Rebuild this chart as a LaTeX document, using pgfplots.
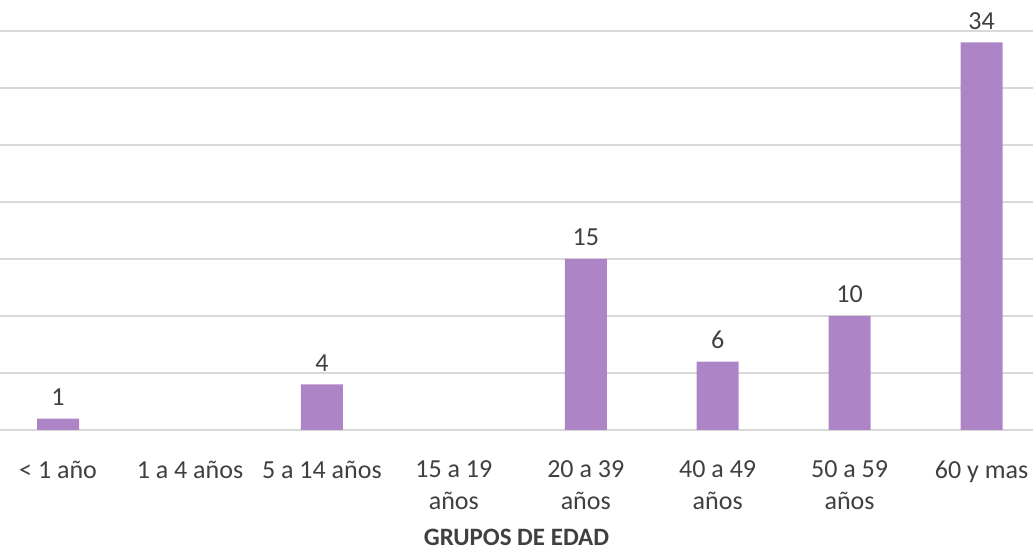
\documentclass[border=0pt]{standalone}
\usepackage{pgfplots}
\pgfplotsset{compat=1.18}
\usepackage{fontspec}
\setmainfont{Carlito}
\definecolor{barpurple}{HTML}{AD85C6}
\definecolor{gridgray}{HTML}{D9D9D9}
\definecolor{txtgray}{HTML}{404040}

\begin{document}
\begin{tikzpicture}
\useasboundingbox (0,-59.5pt) rectangle (516.5pt,215pt);
\begin{axis}[
    at={(0,0)}, anchor=south west,
    width=516.5pt, height=199.5pt, scale only axis,
    ybar, bar width=21pt,
    xmin=-0.44, xmax=7.39,
    ymin=0, ymax=35,
    ytick={0,5,...,35}, yticklabels={},
    ymajorgrids, major grid style={gridgray, line width=0.8pt},
    axis x line*=bottom, axis y line*=left,
    y axis line style={draw=none},
    x axis line style={gridgray, line width=0.8pt, -},
    xtick={0,...,7}, major tick length=0pt,
    xticklabels={{< 1 año},{1 a 4 años},{5 a 14 años},{15 a 19\\años},{20 a 39\\años},{40 a 49\\años},{50 a 59\\años},{60 y mas}},
    xticklabel style={align=center, font=\fontsize{13}{16}\selectfont, text=txtgray, yshift=-12pt},
    xlabel={\textbf{GRUPOS DE EDAD}},
    xlabel style={font=\fontsize{12.5}{14}\selectfont, text=txtgray, inner sep=0pt, yshift=-5.8pt},
    nodes near coords,
    every node near coord/.append style={font=\fontsize{13}{15}\selectfont, text=txtgray, yshift=3pt},
    /pgf/number format/assume math mode=true,
    clip=false,
]
\addplot[fill=barpurple, draw=none] coordinates {(0,1) (2,4) (4,15) (5,6) (6,10) (7,34)};
\end{axis}
\end{tikzpicture}
\end{document}
